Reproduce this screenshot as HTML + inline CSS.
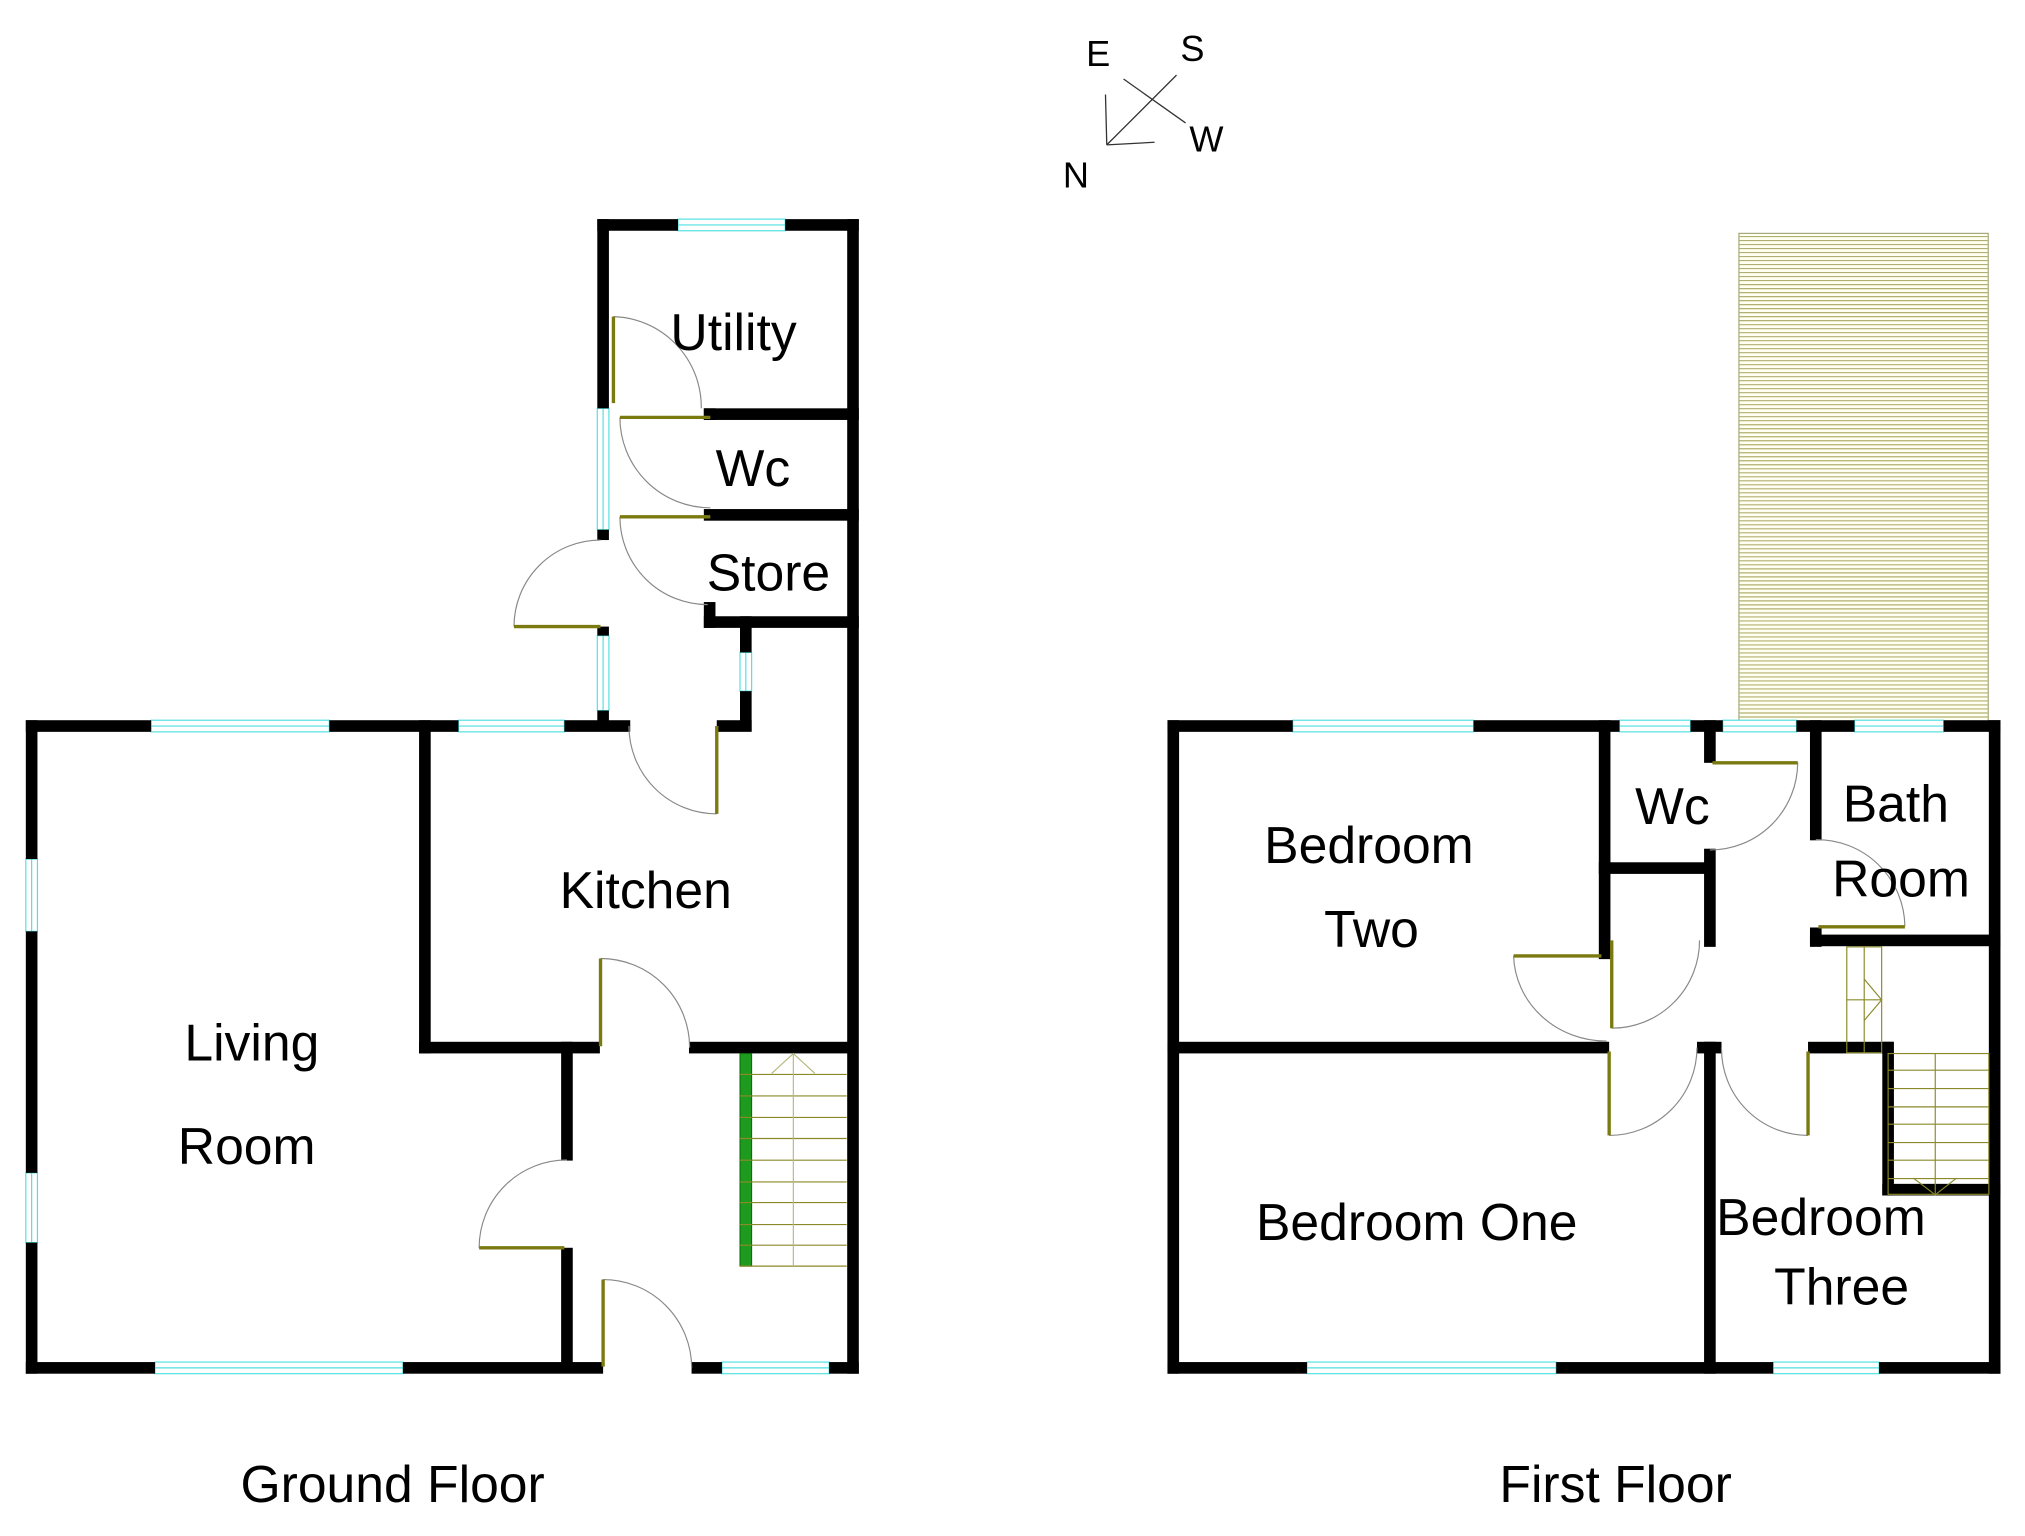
<!DOCTYPE html>
<html><head><meta charset="utf-8"><style>
html,body{margin:0;padding:0;background:#fff;}
svg{display:block;}
text{font-family:"Liberation Sans",sans-serif;fill:#000;}
</style></head><body>
<svg width="2025" height="1536" viewBox="0 0 1568 1189" xmlns="http://www.w3.org/2000/svg">
<rect width="1568" height="1189" fill="#fff"/>

<!-- compass -->
<g stroke="#333" stroke-width="1" fill="none">
<line x1="857" y1="112" x2="911" y2="58"/>
<line x1="870" y1="61" x2="918" y2="95"/>
<line x1="856" y1="73" x2="857" y2="112"/>
<line x1="857" y1="112" x2="894" y2="110"/>
</g>
<g font-size="28">
<text x="841" y="51">E</text>
<text x="914" y="47">S</text>
<text x="921" y="117">W</text>
<text x="823" y="145">N</text>
</g>

<!-- loft hatch -->
<rect x="1346.5" y="180.5" width="193" height="378" fill="#fffff2" stroke="#999966" stroke-width="0.8"/>
<g id="hatch" stroke="#b0b070" stroke-width="0.9">
</g>

<!-- windows (cyan) -->
<g fill="#fff" stroke="#4ee0e0" stroke-width="0.9">
<rect x="117" y="557.5" width="138" height="9"/><line x1="117" y1="562" x2="255" y2="562"/>
<rect x="355" y="557.5" width="82" height="9"/><line x1="355" y1="562" x2="437" y2="562"/>
<rect x="525" y="169.5" width="83" height="9"/><line x1="525" y1="174" x2="608" y2="174"/>
<rect x="120" y="1054.5" width="192" height="9"/><line x1="120" y1="1059" x2="312" y2="1059"/>
<rect x="559" y="1054.5" width="83" height="9"/><line x1="559" y1="1059" x2="642" y2="1059"/>
<rect x="20" y="665" width="9" height="56"/><line x1="24.5" y1="665" x2="24.5" y2="721"/>
<rect x="20" y="908" width="9" height="54"/><line x1="24.5" y1="908" x2="24.5" y2="962"/>
<rect x="462.5" y="316" width="9" height="94"/><line x1="467" y1="316" x2="467" y2="410"/>
<rect x="462.5" y="492" width="9" height="58"/><line x1="467" y1="492" x2="467" y2="550"/>
<rect x="573" y="505" width="9" height="30"/><line x1="577.5" y1="505" x2="577.5" y2="535"/>
<rect x="1001" y="557.5" width="140" height="9"/><line x1="1001" y1="562" x2="1141" y2="562"/>
<rect x="1254" y="557.5" width="55" height="9"/><line x1="1254" y1="562" x2="1309" y2="562"/>
<rect x="1334" y="557.5" width="57" height="9"/><line x1="1334" y1="562" x2="1391" y2="562"/>
<rect x="1436" y="557.5" width="69" height="9"/><line x1="1436" y1="562" x2="1505" y2="562"/>
<rect x="1012" y="1054.5" width="193" height="9"/><line x1="1012" y1="1059" x2="1205" y2="1059"/>
<rect x="1373" y="1054.5" width="82" height="9"/><line x1="1373" y1="1059" x2="1455" y2="1059"/>
</g>

<!-- walls -->
<g fill="#000">
<rect x="20" y="557.5" width="97" height="9"/>
<rect x="255" y="557.5" width="100" height="9"/>
<rect x="437" y="557.5" width="51" height="9"/>
<rect x="20" y="557.5" width="9" height="107.5"/>
<rect x="20" y="721" width="9" height="187"/>
<rect x="20" y="962" width="9" height="101.5"/>
<rect x="20" y="1054.5" width="100" height="9"/>
<rect x="312" y="1054.5" width="155" height="9"/>
<rect x="535.5" y="1054.5" width="23.5" height="9"/>
<rect x="642" y="1054.5" width="23" height="9"/>
<rect x="656" y="169.5" width="9" height="894"/>
<rect x="462.5" y="169.5" width="62.5" height="9"/>
<rect x="608" y="169.5" width="57" height="9"/>
<rect x="462.5" y="169.5" width="9" height="146.5"/>
<rect x="462.5" y="410" width="9" height="8"/>
<rect x="462.5" y="485" width="9" height="7"/>
<rect x="462.5" y="550" width="9" height="16"/>
<rect x="545" y="316" width="120" height="9"/>
<rect x="545" y="316" width="9" height="9"/>
<rect x="545" y="394" width="120" height="9"/>
<rect x="545" y="477" width="120" height="9"/>
<rect x="545" y="466" width="9" height="20"/>
<rect x="573" y="477" width="9" height="28"/>
<rect x="573" y="535" width="9" height="31"/>
<rect x="555" y="557.5" width="27" height="9"/>
<rect x="324.5" y="557.5" width="9" height="258"/>
<rect x="324.5" y="806.5" width="140" height="9"/>
<rect x="533.5" y="806.5" width="131" height="9"/>
<rect x="434.5" y="806.5" width="9" height="92"/>
<rect x="434.5" y="966" width="9" height="97"/>
<rect x="904" y="557.5" width="97" height="9"/>
<rect x="1141" y="557.5" width="113" height="9"/>
<rect x="1309" y="557.5" width="25" height="9"/>
<rect x="1391" y="557.5" width="45" height="9"/>
<rect x="1505" y="557.5" width="44" height="9"/>
<rect x="904" y="557.5" width="9" height="506"/>
<rect x="904" y="1054.5" width="108" height="9"/>
<rect x="1205" y="1054.5" width="168" height="9"/>
<rect x="1455" y="1054.5" width="94" height="9"/>
<rect x="1540" y="557.5" width="9" height="506"/>
<rect x="1238" y="557.5" width="9" height="185"/>
<rect x="1238" y="667.5" width="90" height="9"/>
<rect x="1319.5" y="557.5" width="9" height="33"/>
<rect x="1319.5" y="657" width="9" height="76"/>
<rect x="1401.5" y="557.5" width="9" height="93"/>
<rect x="1401.5" y="718" width="9" height="15"/>
<rect x="1401.5" y="723.5" width="147.5" height="9"/>
<rect x="904" y="806.5" width="342" height="9"/>
<rect x="1314" y="806.5" width="19" height="9"/>
<rect x="1319.5" y="806.5" width="9" height="257"/>
<rect x="1400" y="806.5" width="66" height="9"/>
<rect x="1457.5" y="806.5" width="9" height="119"/>
<rect x="1457.5" y="916.5" width="91.5" height="9"/>
</g>

<!-- ground stairs -->
<rect x="573" y="815.6" width="9" height="164.6" fill="#1e9a1e" stroke="#0a6a0a" stroke-width="0.8"/>
<g stroke="#8a8a2a" stroke-width="0.9" fill="none">
<line x1="573" y1="831.8" x2="655.6" y2="831.8"/>
<line x1="573" y1="848.4" x2="655.6" y2="848.4"/>
<line x1="573" y1="865.1" x2="655.6" y2="865.1"/>
<line x1="573" y1="881.4" x2="655.6" y2="881.4"/>
<line x1="573" y1="898.2" x2="655.6" y2="898.2"/>
<line x1="573" y1="915" x2="655.6" y2="915"/>
<line x1="573" y1="931" x2="655.6" y2="931"/>
<line x1="573" y1="948" x2="655.6" y2="948"/>
<line x1="573" y1="964" x2="655.6" y2="964"/>
<line x1="573" y1="980.2" x2="655.6" y2="980.2"/>
<line x1="614.3" y1="815.6" x2="614.3" y2="980.2" stroke="#b8b880"/>
<polyline points="597.5,831 614.3,815.6 631,831" stroke="#b8b880"/>
</g>

<!-- first floor stairs -->
<g stroke="#8a8a2a" stroke-width="0.9" fill="none">
<rect x="1430" y="733" width="27" height="82"/>
<line x1="1443.5" y1="733" x2="1443.5" y2="815"/>
<line x1="1430" y1="774" x2="1457" y2="774"/>
<polyline points="1443.5,758 1457,774 1443.5,790"/>
<rect x="1462" y="815.6" width="78" height="109"/>
<line x1="1462" y1="828.5" x2="1540" y2="828.5"/>
<line x1="1462" y1="842.7" x2="1540" y2="842.7"/>
<line x1="1462" y1="856.9" x2="1540" y2="856.9"/>
<line x1="1462" y1="870.3" x2="1540" y2="870.3"/>
<line x1="1462" y1="884.5" x2="1540" y2="884.5"/>
<line x1="1462" y1="898.2" x2="1540" y2="898.2"/>
<line x1="1462" y1="912.4" x2="1540" y2="912.4"/>
<line x1="1498.5" y1="815.6" x2="1498.5" y2="925"/>
<polyline points="1481.5,912 1498.5,925 1515,912"/>
</g>

<!-- door arcs -->
<g stroke="#888" stroke-width="0.9" fill="none">
<path d="M475,245 A70,70 0 0 1 543,316"/>
<path d="M480,323 A70,70 0 0 0 550,393"/>
<path d="M480,400 A68,68 0 0 0 548,468"/>
<path d="M465,418 A67,67 0 0 0 398,485"/>
<path d="M487,562 A68,68 0 0 0 555,630"/>
<path d="M465,742 A69,69 0 0 1 534,811"/>
<path d="M439,898 A68,68 0 0 0 371,966"/>
<path d="M467,990.6 A68.6,68.6 0 0 1 535.6,1059"/>
<path d="M1392,590 A68,68 0 0 1 1324,658"/>
<path d="M1406,650 A68,68 0 0 1 1475,717"/>
<path d="M1172,740 A72,68 0 0 0 1244,806"/>
<path d="M1248,796 A68,68 0 0 0 1316,728"/>
<path d="M1246,879 A68,68 0 0 0 1314,811"/>
<path d="M1400,879 A67,67 0 0 1 1333,811"/>
</g>
<!-- door leaves -->
<g stroke="#7a7a10" stroke-width="2.6" fill="none">
<line x1="475" y1="245" x2="475" y2="312"/>
<line x1="480" y1="323" x2="550" y2="323"/>
<line x1="480" y1="400" x2="550" y2="400"/>
<line x1="398" y1="485" x2="465" y2="485"/>
<line x1="555" y1="562" x2="555" y2="630"/>
<line x1="465" y1="742" x2="465" y2="810"/>
<line x1="371" y1="966" x2="437" y2="966"/>
<line x1="467" y1="990.6" x2="467" y2="1058"/>
<line x1="1326" y1="590.5" x2="1392" y2="590.5"/>
<line x1="1408" y1="717.5" x2="1475" y2="717.5"/>
<line x1="1172" y1="740" x2="1240" y2="740"/>
<line x1="1248" y1="728" x2="1248" y2="796"/>
<line x1="1246" y1="814" x2="1246" y2="879"/>
<line x1="1400" y1="814" x2="1400" y2="879"/>
</g>

<!-- labels -->
<g font-size="40">
<text x="568" y="271" text-anchor="middle">Utility</text>
<text x="583" y="376" text-anchor="middle">Wc</text>
<text x="595" y="457" text-anchor="middle">Store</text>
<text x="500" y="703" text-anchor="middle">Kitchen</text>
<text x="195" y="821" text-anchor="middle">Living</text>
<text x="191" y="901" text-anchor="middle">Room</text>
<text x="304" y="1163" text-anchor="middle">Ground Floor</text>
<text x="1251" y="1163" text-anchor="middle">First Floor</text>
<text x="1060" y="668" text-anchor="middle">Bedroom</text>
<text x="1062" y="733" text-anchor="middle">Two</text>
<text x="1295" y="638" text-anchor="middle">Wc</text>
<text x="1468" y="636" text-anchor="middle">Bath</text>
<text x="1472" y="694" text-anchor="middle">Room</text>
<text x="1097" y="960" text-anchor="middle">Bedroom One</text>
<text x="1410" y="956" text-anchor="middle">Bedroom</text>
<text x="1426" y="1010" text-anchor="middle">Three</text>
</g>
</svg>
<script>
(function(){var g=document.getElementById('hatch');var s='';
for(var y=183;y<558;y+=3.1){s+='<line x1="1347" y1="'+y.toFixed(1)+'" x2="1539" y2="'+y.toFixed(1)+'"/>';}
g.innerHTML=s;})();
</script>
</body></html>
